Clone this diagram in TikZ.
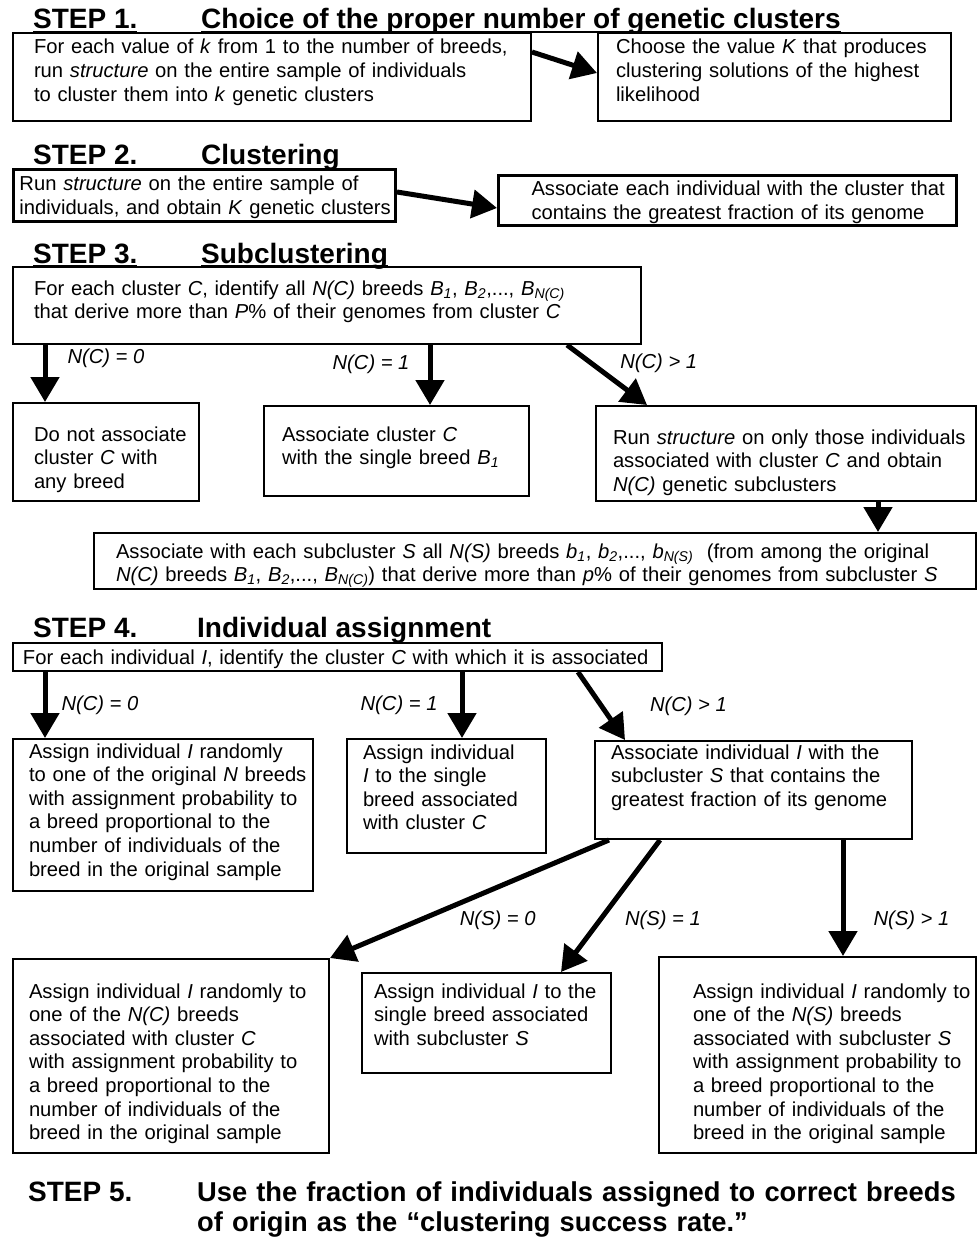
\documentclass[tikz,border=0pt]{standalone}
\usepackage{fontspec}
\setmainfont{Liberation Sans}
\usetikzlibrary{arrows.meta}
\newcommand{\bodyfont}{\fontsize{20.2}{23.6}\selectfont}
\newcommand{\headfont}{\fontsize{28}{30}\selectfont\bfseries}
\newcommand{\vs}[2]{\textit{#1}\textsubscript{\textit{#2}}}
\newcommand{\headul}[1]{\setbox0\hbox{#1}\rlap{\rule[-4pt]{\wd0}{2pt}}\box0}
% #1 style, #2 name, #3 x, #4 top, #5 bottom, #6 width, #7 pad, #8 first baseline, #9 text
\newcommand{\flowbox}[9]{%
  \node[#1,inner xsep=#7pt,text width={#6-2*#7},
        inner ysep={#8-#4-15},text height=15pt,text depth={#5-#8-(#8-#4-15)}]
     (#2) at (#3,#4) {#9};
}

\begin{document}
\begin{tikzpicture}[x=1pt,y=-1pt,
  stepbox/.style={draw,line width=2pt,anchor=north west,align=left,font=\bodyfont,
    execute at begin node={\rightskip=0pt plus 1fil minus 100pt}},
  heavybox/.style={stepbox,line width=3pt},
  flowarrow/.style={line width=5pt,-{Triangle[length=25pt,width=28pt]}},
  cond/.style={font=\bodyfont\itshape,inner sep=0pt},
  steplabel/.style={font=\headfont,anchor=base west,inner sep=0pt}]

\useasboundingbox (0,0) rectangle (977,1239);

% --- STEP 1 ----------------------------------------------------------
\node[steplabel] (s1) at (33,29) {\headul{STEP 1.}};
\node[steplabel] (h1) at (201,29) {\headul{Choice of the proper number of genetic clusters}};
\flowbox{stepbox}{runk}{12}{32}{120}{518}{21}{53}{For each value of \textit{k} from 1 to the number of breeds,\\run \textit{structure} on the entire sample of individuals\\to cluster them into \textit{k} genetic clusters}
\flowbox{stepbox}{bestK}{597}{32}{120}{353}{18}{53}{Choose the value \textit{K} that produces\\clustering solutions of the highest\\likelihood}
\draw[flowarrow] ([yshift=-20]runk.north east) -- ([yshift=-41]bestK.north west);

% --- STEP 2 ----------------------------------------------------------
\node[steplabel] (s2) at (33,164) {STEP 2.};
\node[steplabel] (h2) at (201,164) {Clustering};
\flowbox{heavybox}{runK}{12}{168}{220}{382}{6}{189}{Run \textit{structure} on the entire sample of\\individuals, and obtain \textit{K} genetic clusters}
\flowbox{heavybox}{assoc}{497}{174}{224}{458}{33}{194}{Associate each individual with the cluster that\\contains the greatest fraction of its genome}
\draw[flowarrow] ([yshift=-24]runK.north east) -- ([yshift=-34]assoc.north west);

% --- STEP 3 ----------------------------------------------------------
\node[steplabel] (s3) at (33,263) {\headul{STEP 3.}};
\node[steplabel] (h3) at (201,263) {\headul{Subclustering}};
\flowbox{stepbox}{ident}{12}{266}{343}{628}{21}{294}{For each cluster \textit{C}, identify all \textit{N(C)} breeds \vs{B}{1}, \vs{B}{2},..., \vs{B}{N(C)}\\that derive more than \textit{P}\% of their genomes from cluster \textit{C}}
\flowbox{stepbox}{nolink}{12}{402}{500}{186}{21}{440}{Do not associate\\cluster \textit{C} with\\any breed}
\flowbox{stepbox}{single}{263}{405}{495}{265}{18}{440}{Associate cluster \textit{C}\\with the single breed \vs{B}{1}}
\flowbox{stepbox}{rerun}{595}{405}{500}{380}{17}{443}{Run \textit{structure} on only those individuals\\associated with cluster \textit{C} and obtain\\\textit{N(C)} genetic subclusters}
\flowbox{stepbox}{subassoc}{93}{532}{588}{882}{22}{557}{Associate with each subcluster \textit{S} all \textit{N(S)} breeds \vs{b}{1}, \vs{b}{2},..., \vs{b}{N(S)} \ (from among the original\\\textit{N(C)} breeds \vs{B}{1}, \vs{B}{2},..., \vs{B}{N(C)}) that derive more than \textit{p}\% of their genomes from subcluster \textit{S}}

\draw[flowarrow] ([xshift=33]ident.south west) -- node[cond,pos=.24,anchor=west,xshift=20]{N(C) = 0} ([xshift=33]nolink.north west);
\draw[flowarrow] ([xshift=418]ident.south west) -- node[cond,pos=.32,anchor=east,xshift=-18]{N(C) = 1} ([xshift=167]single.north west);
\draw[flowarrow] ([xshift=555]ident.south west) -- node[cond,pos=.31,anchor=west,xshift=26]{N(C) > 1} ([xshift=52]rerun.north west);
\draw[flowarrow] ([xshift=283]rerun.south west) -- ([xshift=785]subassoc.north west);

% --- STEP 4 ----------------------------------------------------------
\node[steplabel] (s4) at (33,637) {STEP 4.};
\node[steplabel] (h4) at (197,637) {Individual assignment};
\flowbox{stepbox}{eachI}{12}{642}{670}{649}{10}{663}{For each individual \textit{I}, identify the cluster \textit{C} with which it is associated}
\flowbox{stepbox}{randN}{12}{738}{890}{300}{16}{757}{Assign individual \textit{I} randomly\\to one of the original \textit{N} breeds\\with assignment probability to\\a breed proportional to the\\number of individuals of the\\breed in the original sample}
\flowbox{stepbox}{singleC}{346}{738}{852}{199}{16}{758}{Assign individual\\\textit{I} to the single\\breed associated\\with cluster \textit{C}}
\flowbox{stepbox}{assocS}{594}{740}{838}{317}{16}{758}{Associate individual \textit{I} with the\\subcluster \textit{S} that contains the\\greatest fraction of its genome}
\flowbox{stepbox}{randC}{12}{958}{1152}{316}{16}{997}{Assign individual \textit{I} randomly to\\one of the \textit{N(C)} breeds\\associated with cluster \textit{C}\\with assignment probability to\\a breed proportional to the\\number of individuals of the\\breed in the original sample}
\flowbox{stepbox}{singleS}{361}{972}{1072}{249}{12}{997}{Assign individual \textit{I} to the\\single breed associated\\with subcluster \textit{S}}
\flowbox{stepbox}{randS}{658}{956}{1152}{317}{34}{997}{Assign individual \textit{I} randomly to\\one of the \textit{N(S)} breeds\\associated with subcluster \textit{S}\\with assignment probability to\\a breed proportional to the\\number of individuals of the\\breed in the original sample}

\draw[flowarrow] ([xshift=33]eachI.south west) -- node[cond,pos=.51,anchor=west,xshift=14]{N(C) = 0} ([xshift=33]randN.north west);
\draw[flowarrow] ([xshift=450]eachI.south west) -- node[cond,pos=.51,anchor=east,xshift=-22]{N(C) = 1} ([xshift=116]singleC.north west);
\draw[flowarrow] ([xshift=566]eachI.south west) -- node[cond,pos=.5,anchor=west,xshift=46]{N(C) > 1} ([xshift=31]assocS.north west);
\draw[flowarrow] ([xshift=15]assocS.south west) -- node[cond,pos=.68,anchor=west,xshift=38]{N(S) = 0} (randC.north east);
\draw[flowarrow] ([xshift=66]assocS.south west) -- node[cond,pos=.61,anchor=west,xshift=23]{N(S) = 1} ([xshift=200]singleS.north west);
\draw[flowarrow] ([xshift=249]assocS.south west) -- node[cond,pos=.69,anchor=west,xshift=28]{N(S) > 1} ([xshift=185]randS.north west);

% --- STEP 5 ----------------------------------------------------------
\node[steplabel] (s5) at (28,1201) {STEP 5.};
\node[steplabel,font=\fontsize{27.3}{30}\selectfont\bfseries,text width=778,align=left] (h5) at (197,1201) {Use the fraction of individuals assigned to correct breeds\\of origin as the “clustering success rate."};

\end{tikzpicture}
\end{document}
